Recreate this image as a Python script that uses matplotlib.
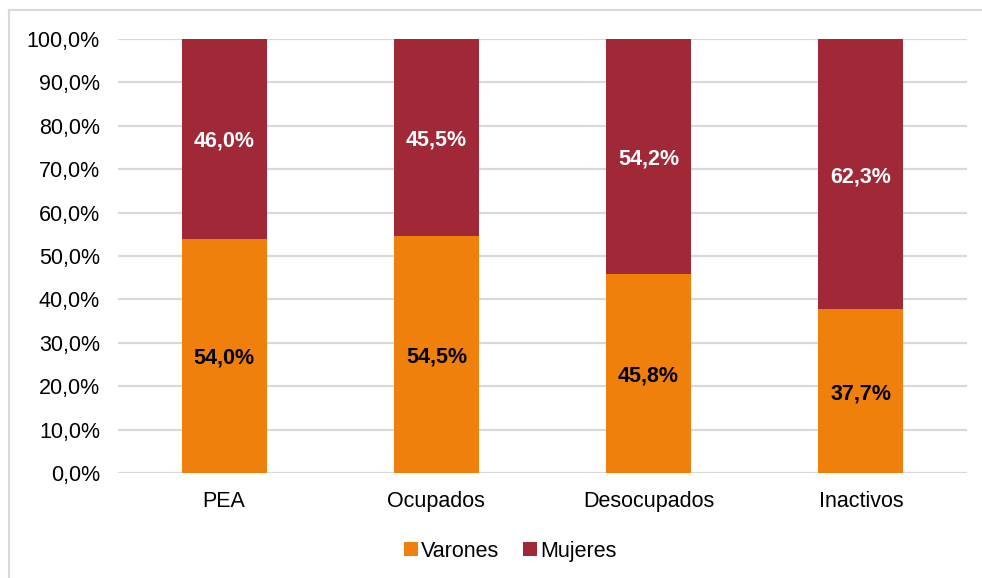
import matplotlib.pyplot as plt
import numpy as np
from matplotlib.lines import Line2D

plt.rcParams["font.family"] = ["Liberation Sans", "DejaVu Sans"]

categories = ["PEA", "Ocupados", "Desocupados", "Inactivos"]
varones = [54.0, 54.5, 45.8, 37.7]
mujeres = [46.0, 45.5, 54.2, 62.3]
yticks = np.arange(0, 101, 10)

ORANGE = "#F0800C"
RED = "#A02837"
GRID = "#D9D9D9"
FS = 15.5


def pct(v):
    return f"{v:.1f}%".replace(".", ",")


fig = plt.figure(figsize=(9.82, 5.78), dpi=100)
ax = fig.add_axes([0.1202, 0.1817, 0.8645, 0.7508])

x = np.arange(len(categories))
ax.bar(x, varones, width=0.4, color=ORANGE, label="Varones", zorder=3)
ax.bar(x, mujeres, width=0.4, bottom=varones, color=RED, label="Mujeres", zorder=3)

for xi, v, m in zip(x, varones, mujeres, strict=True):
    ax.text(xi, v / 2, pct(v), ha="center", va="center_baseline", fontsize=FS,
            fontweight="bold", color="black", zorder=4)
    ax.text(xi, v + m / 2, pct(m), ha="center", va="center_baseline", fontsize=FS,
            fontweight="bold", color="white", zorder=4)

ax.set_xlim(-0.5, 3.5)
ax.set_ylim(0, 100)
ax.set_yticks(yticks)
ax.set_yticklabels([pct(t) for t in yticks], fontsize=FS)
ax.set_xticks(x)
ax.set_xticklabels(categories, fontsize=FS)
ax.tick_params(axis="both", length=0)
ax.tick_params(axis="y", pad=13)
ax.tick_params(axis="x", pad=13)
ax.grid(axis="y", color=GRID, lw=1.6, zorder=0)
for s in ax.spines.values():
    s.set_visible(False)

ax.legend(loc="center", bbox_to_anchor=(0.462, -0.18), ncol=2, frameon=False,
          fontsize=FS, handlelength=0.65, handleheight=0.65, handletextpad=0.15,
          columnspacing=1.1)

# outer chart border (top and left visible)
fig.add_artist(Line2D([9 / 982, 1], [1 - 10 / 578, 1 - 10 / 578], color=GRID, lw=1.5))
fig.add_artist(Line2D([9 / 982, 9 / 982], [0, 1 - 10 / 578], color=GRID, lw=1.5))

fig.savefig("out.png", dpi=100)
